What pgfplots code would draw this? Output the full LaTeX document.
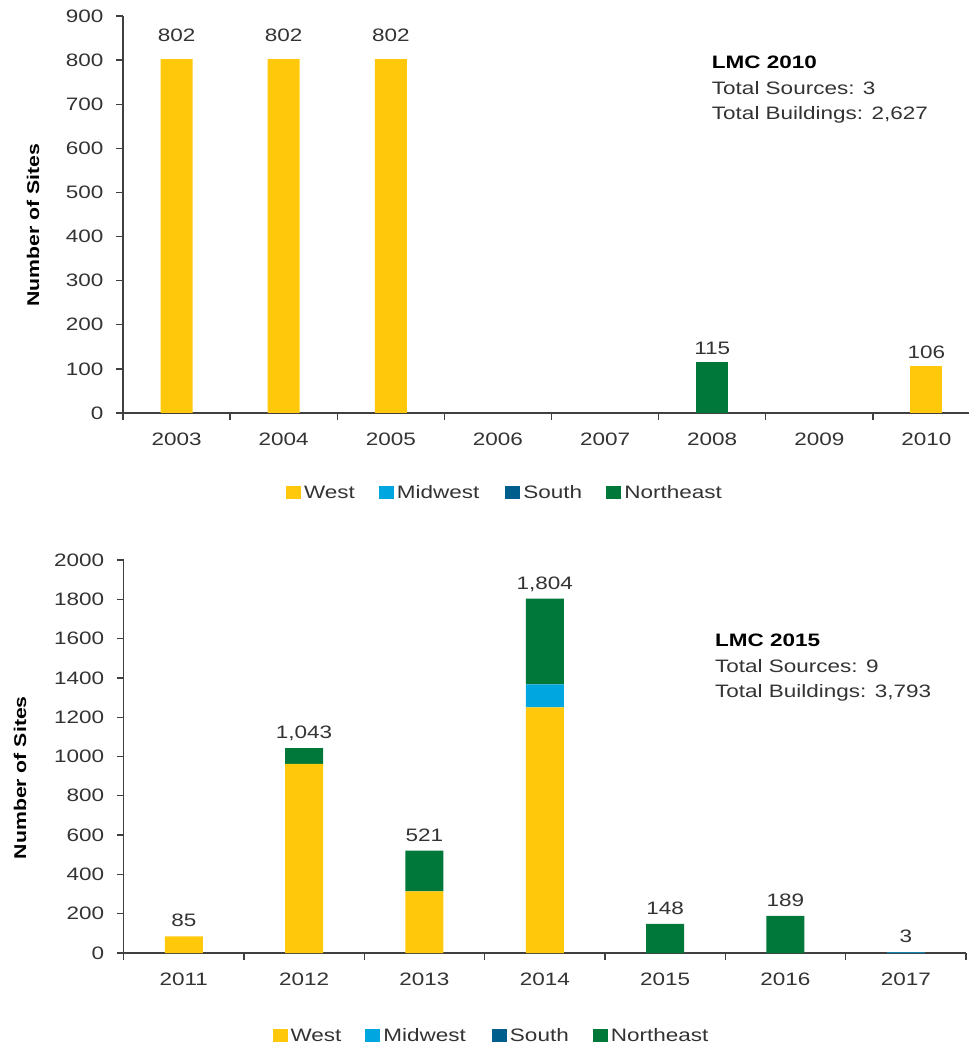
\documentclass[border=0pt]{standalone}
\usepackage{fontspec}
\setmainfont{Liberation Sans}[FakeStretch=1.25]
\usepackage{pgfplots}
\usepackage{pgfplotstable}
\pgfplotsset{compat=1.18}
\definecolor{cwest}{HTML}{FFC80A}
\definecolor{cmid}{HTML}{00A6E0}
\definecolor{csouth}{HTML}{005E8C}
\definecolor{cne}{HTML}{00783A}
\definecolor{txt}{HTML}{333333}
\definecolor{axc}{HTML}{404040}
\pgfplotstableread{
x west mid south ne tot lab
0 85 0 0 0 85 85
1 962 0 0 81 1043 1,043
2 314 0 0 207 521 521
3 1250 117 0 437 1804 1,804
4 0 0 0 148 148 148
5 0 0 0 189 189 189
6 0 3 0 0 3 3
}\bottomdata
\pgfplotsset{
 sq/.style={legend image code/.code={\fill[##1] (0pt,-6.5pt) rectangle (15pt,6.5pt);}},
 lbl/.style={every node near coord/.append style={font=\fontsize{18}{21}\selectfont, text=txt, anchor=base, inner sep=0pt, yshift=#1}},
 common/.style={
  scale only axis,
  anchor=south west,
  axis x line*=bottom, axis y line*=left,
  axis line style={axc, line width=1.3pt},
  tick style={axc, line width=1.3pt},
  tick align=outside,
  major tick length=7pt,
  x tick label as interval,
  ymin=0,
  clip=false,
  /pgf/number format/assume math mode=true,
  /pgf/number format/1000 sep={},
  tick label style={font=\fontsize{18}{21}\selectfont, text=txt},
  xticklabel style={yshift=-9pt},
  yticklabel style={xshift=-9pt},
  legend style={draw=none, fill=none, legend columns=4, font=\fontsize{18}{21}\selectfont, text=txt,
    /tikz/column 1/.style={column sep=1pt},
    /tikz/column 2/.style={column sep=22pt},
    /tikz/column 3/.style={column sep=1pt},
    /tikz/column 4/.style={column sep=24pt},
    /tikz/column 5/.style={column sep=1pt},
    /tikz/column 6/.style={column sep=22pt},
    /tikz/column 7/.style={column sep=1pt}},
 }
}
\begin{document}
\begin{tikzpicture}
\useasboundingbox (0,0) rectangle (969pt,1045pt);
% ---------- top chart ----------
\begin{axis}[common,
  at={(123pt,632pt)}, width=857pt, height=397pt,
  xmin=-0.5, xmax=7.5, ymax=900,
  ytick={0,100,...,900},
  xtick={-0.5,0.5,...,7.5},
  xticklabels={2003,2004,2005,2006,2007,2008,2009,2010},
  ybar, bar width=32pt,
  ylabel={Number of Sites},
  every axis y label/.style={at={(axis description cs:-0.105,0.473)}, rotate=90, anchor=center, font=\bfseries\fontsize{17}{20}\selectfont, text=black},
  legend style={at={(axis description cs:0.4457,-0.2015)}, anchor=center},
]
\addplot[fill=cwest, draw=none, bar shift=0pt, sq, nodes near coords, lbl=18pt] coordinates {(0,802) (1,802) (2,802)};
\addlegendentry{West}
\addplot[fill=cwest, draw=none, bar shift=0pt, forget plot, nodes near coords, lbl=8pt] coordinates {(7,106)};
\addlegendimage{fill=cmid, draw=none, sq}
\addlegendentry{Midwest}
\addlegendimage{fill=csouth, draw=none, sq}
\addlegendentry{South}
\addplot[fill=cne, draw=none, bar shift=0pt, sq, nodes near coords, lbl=8pt] coordinates {(5,115)};
\addlegendentry{Northeast}
\node[anchor=west, align=left, font=\fontsize{18}{25.5}\selectfont, text=txt, inner sep=0pt] at (axis description cs:0.687,0.814)
  {{\color{black}\bfseries LMC 2010}\\Total Sources: 3\\Total Buildings: 2,627};
\end{axis}
% ---------- bottom chart ----------
\begin{axis}[common,
  at={(123.6pt,92pt)}, width=842.4pt, height=393pt,
  xmin=-0.5, xmax=6.5, ymax=2000,
  ytick={0,200,...,2000},
  xtick={-0.5,0.5,...,6.5},
  xticklabels={2011,2012,2013,2014,2015,2016,2017},
  ybar stacked, bar width=38pt,
  ylabel={Number of Sites},
  every axis y label/.style={at={(axis description cs:-0.123,0.446)}, rotate=90, anchor=center, font=\bfseries\fontsize{17}{20}\selectfont, text=black},
  legend style={at={(axis description cs:0.4367,-0.211)}, anchor=center},
]
\addplot[fill=cwest, draw=none, sq] table[x=x, y=west] {\bottomdata};
\addlegendentry{West}
\addplot[fill=cmid, draw=none, sq] table[x=x, y=mid] {\bottomdata};
\addlegendentry{Midwest}
\addplot[fill=csouth, draw=none, sq] table[x=x, y=south] {\bottomdata};
\addlegendentry{South}
\addplot[fill=cne, draw=none, sq] table[x=x, y=ne] {\bottomdata};
\addlegendentry{Northeast}
\node[anchor=west, align=left, font=\fontsize{18}{25.5}\selectfont, text=txt, inner sep=0pt] at (axis description cs:0.702,0.725)
  {{\color{black}\bfseries LMC 2015}\\Total Sources: 9\\Total Buildings: 3,793};
\end{axis}
% totals labels for the stacked chart
\begin{axis}[
  scale only axis, anchor=south west,
  at={(123.6pt,92pt)}, width=842.4pt, height=393pt,
  xmin=-0.5, xmax=6.5, ymin=0, ymax=2000,
  hide axis, clip=false,
]
\addplot[draw=none, mark=none, nodes near coords, point meta=explicit symbolic, lbl=9.5pt] table[x=x, y=tot, meta=lab] {\bottomdata};
\end{axis}
\end{tikzpicture}
\end{document}
